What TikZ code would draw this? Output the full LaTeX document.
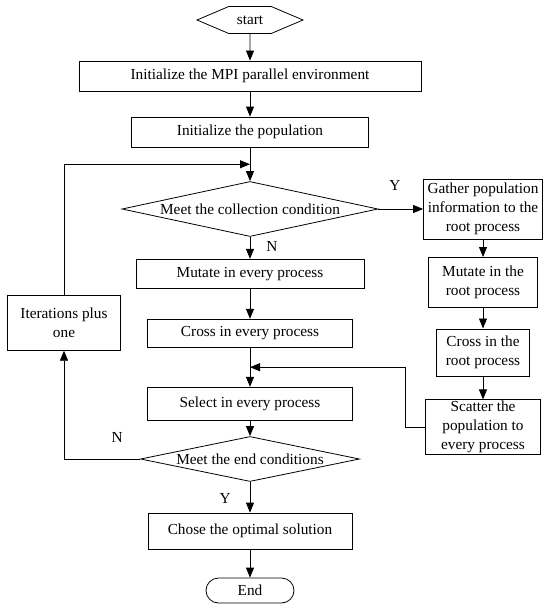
\documentclass[tikz,border=0pt]{standalone}
\usepackage{fontspec}
\setmainfont{Liberation Serif}
\usetikzlibrary{arrows.meta,shapes.geometric,shapes.symbols,calc}

\begin{document}
\begin{tikzpicture}[x=1pt, y=1pt, line width=0.8pt, >={Triangle[length=10pt,width=8pt]}, every node/.style={font=\fontsize{15.3}{18.7}\selectfont}]
    \tikzstyle{terminal} = [signal, signal to=west and east, signal pointer angle=46, draw, minimum width=106pt, minimum height=27pt, inner sep=0pt]
    \tikzstyle{process} = [rectangle, draw, minimum height=30pt, text centered]
    \tikzstyle{decision} = [diamond, draw, inner sep=0pt, text centered]
    \tikzstyle{rootbox} = [rectangle, draw, align=center, inner xsep=2pt, inner ysep=1.5pt]
    \tikzstyle{stopbox} = [rectangle, rounded corners=12.5pt, draw, minimum width=88pt, minimum height=25pt]
    \tikzstyle{lbl} = [inner sep=0pt]

    \useasboundingbox (0,0) rectangle (550,-610);

    % Main flow
    \node [terminal] (start) at (250,-20) {start};
    \node [process, below of=start, node distance=56pt, minimum width=342pt] (mpi) {Initialize the MPI parallel environment};
    \node [process, below of=mpi, node distance=56pt, minimum width=237pt] (pop) {Initialize the population};
    \node [decision, below of=pop, node distance=77pt, minimum width=256pt, minimum height=55pt, aspect=4.65] (coll) {Meet the collection condition};
    \node [process, below of=coll, node distance=64.7pt, minimum width=228pt, minimum height=29pt] (mutate) {Mutate in every process};
    \node [process, below of=mutate, node distance=59.5pt, minimum width=205pt, minimum height=28pt] (cross) {Cross in every process};
    \node [process, below of=cross, node distance=70.5pt, minimum width=205pt, minimum height=33pt] (select) {Select in every process};
    \node [decision, below of=select, node distance=55.3pt, minimum width=219pt, minimum height=45pt, aspect=4.87] (endcond) {Meet the end conditions};
    \node [process, below of=endcond, node distance=72pt, minimum width=204pt, minimum height=36pt] (chose) {Chose the optimal solution};
    \node [stopbox, below of=chose, node distance=59.5pt] (stop) {End};

    % Root process branch
    \node [rootbox, right of=coll, node distance=233pt, minimum width=119pt, minimum height=60pt] (gather) {Gather population\\information to the\\root process};
    \node [rootbox, below of=gather, node distance=73.4pt, minimum width=109pt, minimum height=50pt] (mutroot) {Mutate in the\\root process};
    \node [rootbox, below of=mutroot, node distance=70pt, minimum width=93pt, minimum height=47pt] (crossroot) {Cross in the\\root process};
    \node [rootbox, below of=crossroot, node distance=74.6pt, minimum width=115pt, minimum height=54pt] (scatter) {Scatter the\\population to\\every process};

    % Iteration counter
    \node [rootbox, left of=cross, node distance=186pt, yshift=10.4pt, minimum width=113pt, minimum height=55pt] (iter) {Iterations plus\\one};

    \coordinate (join1) at ($(pop.south)!0.5!(coll.north)$);
    \coordinate (join2) at ($(cross.south)!0.5!(select.north)$);

    % Connections
    \draw [->] (start) -- (mpi);
    \draw [->] (mpi) -- (pop);
    \draw [->] (pop) -- (coll);
    \draw [->] (coll) -- node [lbl, pos=0.45, right=16pt] {N} (mutate);
    \draw [->] (mutate) -- (cross);
    \draw [->] (cross) -- (select);
    \draw [->] (select) -- (endcond);
    \draw [->] (endcond) -- node [lbl, pos=0.54, left=19pt] {Y} (chose);
    \draw [->] (chose) -- (stop);

    \draw [->] (coll.east) -- node [lbl, pos=0.37, above=18pt] {Y} (gather.west);
    \draw [->] (gather) -- (mutroot);
    \draw [->] (mutroot) -- (crossroot);
    \draw [->] (crossroot) -- (scatter);
    \draw [->] (scatter.west) -- ++(-20pt,0) |- (join2);

    % Loop back
    \draw [->] (endcond.west) -| node [lbl, pos=0.15, above=16pt] {N} (iter.south);
    \draw [->] (iter.north) |- (join1);
\end{tikzpicture}
\end{document}
